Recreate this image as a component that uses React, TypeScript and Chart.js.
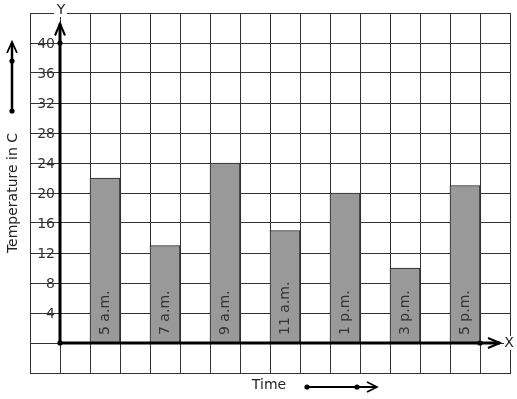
import React, { useEffect, useRef } from "react";
import Chart from "chart.js/auto";

const categories = ["5 a.m.", "7 a.m.", "9 a.m.", "11 a.m.", "1 p.m.", "3 p.m.", "5 p.m."];
const temperatures = [22, 13, 24, 15, 20, 10, 21];
const yTickValues = [4, 8, 12, 16, 20, 24, 28, 32, 36, 40];
const yAxisTitle = "Temperature in C";
const xAxisTitle = "Time";

// 16 grid columns; bars sit in every other column, starting at the 3rd
const SLOT_COUNT = 16;
const slotLabels: string[] = Array.from({ length: SLOT_COUNT }, () => "");
const slotValues: (number | null)[] = Array.from({ length: SLOT_COUNT }, () => null);
categories.forEach((c, i) => {
  slotLabels[2 + 2 * i] = c;
  slotValues[2 + 2 * i] = temperatures[i];
});

const FONT = "'DejaVu Sans', sans-serif";

function dot(ctx: CanvasRenderingContext2D, x: number, y: number) {
  ctx.beginPath();
  ctx.arc(x, y, 2.6, 0, Math.PI * 2);
  ctx.fill();
}

const overlay = {
  id: "overlay",
  afterDatasetsDraw(chart: any) {
    const ctx: CanvasRenderingContext2D = chart.ctx;
    const xs = chart.scales.x;
    const ys = chart.scales.y;
    const area = chart.chartArea;
    const half = (xs.getPixelForTick(1) - xs.getPixelForTick(0)) / 2;
    const ox = xs.getPixelForTick(0) + half;
    const oy = ys.getPixelForValue(0);
    ctx.save();
    ctx.strokeStyle = "#000";
    ctx.fillStyle = "#000";
    ctx.lineWidth = 3;
    // y axis
    const yTop = ys.getPixelForValue(42.6);
    ctx.beginPath();
    ctx.moveTo(ox, oy);
    ctx.lineTo(ox, yTop);
    ctx.stroke();
    ctx.lineWidth = 2;
    ctx.beginPath();
    ctx.moveTo(ox - 5, yTop + 12);
    ctx.lineTo(ox, yTop);
    ctx.lineTo(ox + 5, yTop + 12);
    ctx.stroke();
    // x axis
    const xEnd = xs.getPixelForTick(SLOT_COUNT - 1) + 5;
    ctx.lineWidth = 3;
    ctx.beginPath();
    ctx.moveTo(ox, oy);
    ctx.lineTo(xEnd, oy);
    ctx.stroke();
    ctx.lineWidth = 2;
    ctx.beginPath();
    ctx.moveTo(xEnd - 12, oy - 5);
    ctx.lineTo(xEnd, oy);
    ctx.lineTo(xEnd - 12, oy + 5);
    ctx.stroke();
    // dots
    dot(ctx, ox, oy);
    dot(ctx, ox, ys.getPixelForValue(40));
    dot(ctx, xs.getPixelForTick(2 + 2 * (categories.length - 1)) + half, oy);

    // axis letters
    ctx.font = `14px ${FONT}`;
    ctx.textAlign = "center";
    ctx.textBaseline = "middle";
    ctx.fillStyle = "#fff";
    ctx.fillRect(ox - 6, area.top - 6, 13, 10);
    ctx.fillRect(area.right - 6, oy - 7, 12, 14);
    ctx.fillStyle = "#222";
    ctx.fillText("Y", ox + 1, area.top - 3);
    ctx.fillText("X", area.right - 1, oy);

    // y tick labels
    ctx.textAlign = "right";
    ctx.fillStyle = "#333";
    yTickValues.forEach((v) => {
      ctx.fillText(String(v), ox - 5, ys.getPixelForValue(v) + 1);
    });

    // bar labels
    ctx.textAlign = "left";
    categories.forEach((c, i) => {
      const cx = xs.getPixelForTick(2 + 2 * i);
      ctx.save();
      ctx.translate(cx, oy - 8);
      ctx.rotate(-Math.PI / 2);
      ctx.fillText(c, 0, 0);
      ctx.restore();
    });

    // y title with arrow
    ctx.save();
    ctx.translate(13, 193);
    ctx.rotate(-Math.PI / 2);
    ctx.textAlign = "center";
    ctx.fillStyle = "#222";
    ctx.fillText(yAxisTitle, 0, 0);
    ctx.restore();
    ctx.strokeStyle = "#000";
    ctx.fillStyle = "#000";
    ctx.lineWidth = 2.5;
    ctx.beginPath();
    ctx.moveTo(12, 111);
    ctx.lineTo(12, 43);
    ctx.stroke();
    ctx.lineWidth = 1.8;
    ctx.beginPath();
    ctx.moveTo(7, 53);
    ctx.lineTo(12, 42);
    ctx.lineTo(17, 53);
    ctx.stroke();
    dot(ctx, 12, 111);
    dot(ctx, 12, 61);

    // x title with arrow
    ctx.fillStyle = "#222";
    ctx.textAlign = "center";
    ctx.fillText(xAxisTitle, 269, 385);
    ctx.strokeStyle = "#000";
    ctx.fillStyle = "#000";
    ctx.lineWidth = 2;
    ctx.beginPath();
    ctx.moveTo(307, 387);
    ctx.lineTo(376, 387);
    ctx.stroke();
    ctx.lineWidth = 1.6;
    ctx.beginPath();
    ctx.moveTo(367, 382);
    ctx.lineTo(377, 387);
    ctx.lineTo(367, 392);
    ctx.stroke();
    dot(ctx, 307, 387);
    dot(ctx, 357, 387);
    ctx.restore();
  },
};

export default function App() {
  const ref = useRef<HTMLCanvasElement>(null);
  useEffect(() => {
    if (!ref.current) return;
    const chart = new Chart(ref.current, {
      type: "bar",
      data: {
        labels: slotLabels,
        datasets: [
          {
            data: slotValues,
            backgroundColor: "#999999",
            borderColor: "#222",
            borderWidth: { top: 1, left: 1, right: 1, bottom: 0 },
            barPercentage: 1,
            categoryPercentage: 1,
          },
        ],
      },
      options: {
        animation: false,
        responsive: false,
        maintainAspectRatio: false,
        events: [],
        layout: { padding: { left: 30, top: 13, right: 7, bottom: 26 } },
        plugins: { legend: { display: false }, tooltip: { enabled: false } },
        scales: {
          x: {
            type: "category",
            ticks: { display: false },
            grid: { color: "#333", lineWidth: 1, drawTicks: false, offset: true },
            border: { display: true, color: "#333", width: 1 },
            afterFit: (s: any) => {
              s.height = 0;
            },
          },
          y: {
            type: "linear",
            min: -4,
            max: 44,
            ticks: { display: false, stepSize: 4 },
            grid: { color: "#333", lineWidth: 1, drawTicks: false },
            border: { display: true, color: "#333", width: 1 },
            afterFit: (s: any) => {
              s.width = 0;
            },
          },
        },
      },
      plugins: [overlay],
    });
    return () => chart.destroy();
  }, []);
  return (
    <div style={{ position: "absolute", left: 0, top: 0, width: 517, height: 399, background: "#fff" }}>
      <canvas ref={ref} width={517} height={399} style={{ width: 517, height: 399 }} />
    </div>
  );
}
